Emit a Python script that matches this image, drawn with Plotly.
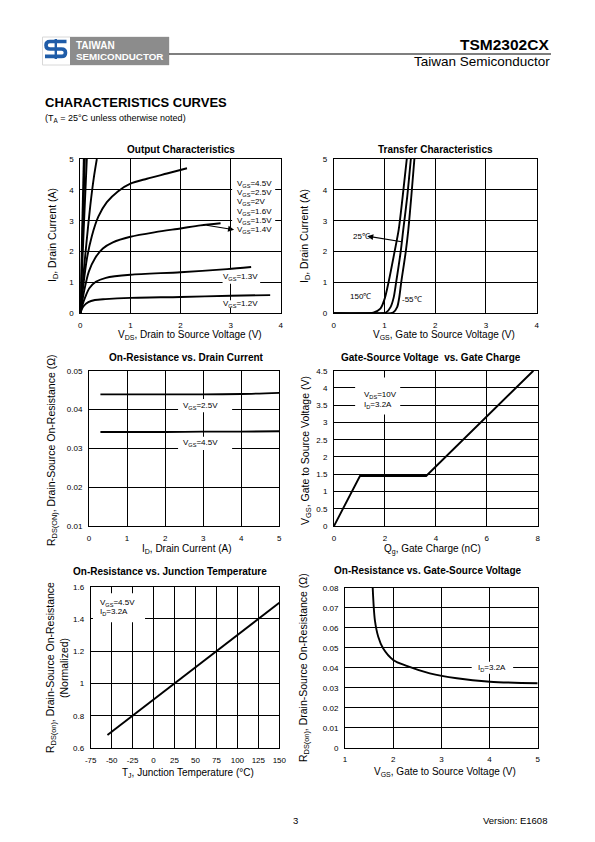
import plotly.graph_objects as go

# page is 595x842; the html body adds an 8px margin, so the figure is drawn
# 16px smaller and all page-pixel positions are shifted by that margin
PAGE_W, PAGE_H = 595, 842
OFF = 8
W, H = PAGE_W - 2 * OFF, PAGE_H - 2 * OFF
FONT = "Liberation Sans, Arial, Helvetica, sans-serif"


def X(px):
    return (px - OFF) / W


def Y(py):
    return 1 - (py - OFF) / H


# ---------------- data ----------------
# Output characteristics: VDS (V) vs ID (A) for several VGS
vds_45 = [0, 0.07]
id_45 = [0, 5.0]
vds_25 = [0, 0.09]
id_25 = [0, 5.0]
vds_20 = [0, 0.07, 0.13]
id_20 = [0, 2.8, 5.0]
vds_16 = [0, 0.06, 0.13, 0.2, 0.27, 0.33]
id_16 = [0, 1.2, 2.4, 3.5, 4.4, 5.0]
vds_15 = [0, 0.06, 0.13, 0.23, 0.36, 0.53, 0.75, 1.0, 1.33, 1.73, 2.13]
id_15 = [0, 0.9, 1.75, 2.5, 3.13, 3.6, 3.95, 4.2, 4.36, 4.53, 4.7]
vds_14 = [0, 0.08, 0.17, 0.3, 0.45, 0.65, 1.0, 1.5, 2.0, 2.4, 2.8]
id_14 = [0, 0.75, 1.35, 1.8, 2.1, 2.3, 2.48, 2.63, 2.75, 2.85, 2.92]
vds_13 = [0, 0.05, 0.1, 0.18, 0.31, 0.51, 1.0, 2.0, 2.93, 3.41]
id_13 = [0, 0.3, 0.53, 0.81, 1.02, 1.15, 1.25, 1.33, 1.43, 1.5]
vds_12 = [0, 0.06, 0.16, 0.29, 0.5, 1.0, 2.0, 3.0, 3.79]
id_12 = [0, 0.22, 0.36, 0.43, 0.46, 0.5, 0.53, 0.57, 0.59]
out_labels = ["V<sub>GS</sub>=4.5V", "V<sub>GS</sub>=2.5V", "V<sub>GS</sub>=2V",
              "V<sub>GS</sub>=1.6V", "V<sub>GS</sub>=1.5V", "V<sub>GS</sub>=1.4V"]

# Transfer characteristics: VGS (V) vs ID (A)
vgs_150 = [0, 0.5, 0.78, 0.92, 1.0, 1.08, 1.2, 1.28, 1.36, 1.44]
id_150 = [0, 0, 0.02, 0.15, 0.45, 1.0, 2.0, 2.7, 3.8, 5.0]
vgs_25c = [0, 0.8, 1.03, 1.12, 1.18, 1.23, 1.32, 1.37, 1.45, 1.52]
id_25c = [0, 0, 0.02, 0.2, 0.5, 1.0, 2.0, 2.7, 3.8, 5.0]
vgs_m55 = [0, 0.95, 1.17, 1.25, 1.29, 1.33, 1.42, 1.47, 1.53, 1.59]
id_m55 = [0, 0, 0.02, 0.2, 0.5, 1.0, 2.0, 2.7, 3.8, 5.0]

# On-resistance vs drain current
id_axis = [0.3, 1, 2, 3, 4, 5]
rds_vgs25 = [0.0439, 0.0439, 0.0439, 0.0439, 0.0440, 0.0443]
rds_vgs45 = [0.0342, 0.0342, 0.0342, 0.0343, 0.0343, 0.0344]

# Gate charge
qg = [0, 1.02, 3.62, 7.83]
vgs_q = [0, 1.45, 1.45, 4.5]

# On-resistance vs junction temperature
tj = [-55, 150]
rds_norm = [0.68, 1.5]

# On-resistance vs gate-source voltage
vgs_r = [1.575, 1.62, 1.69, 1.79, 2.0, 2.28, 2.76, 3.32, 4.01, 5.0]
rds_v = [0.080, 0.0638, 0.0555, 0.0497, 0.0439, 0.0409, 0.0372, 0.0347, 0.033, 0.0322]

# tick labels
t_out_x = ["0", "1", "2", "3", "4"]
t_out_y = ["0", "1", "2", "3", "4", "5"]
t_rid_x = ["0", "1", "2", "3", "4", "5"]
t_rid_y = ["0.01", "0.02", "0.03", "0.04", "0.05"]
t_qg_x = ["0", "2", "4", "6", "8"]
t_qg_y = ["0", "0.5", "1", "1.5", "2", "2.5", "3", "3.5", "4", "4.5"]
t_tj_x = ["-75", "-50", "-25", "0", "25", "50", "75", "100", "125", "150"]
t_tj_y = ["0.6", "0.8", "1", "1.2", "1.4", "1.6"]
t_rv_x = ["1", "2", "3", "4", "5"]
t_rv_y = ["0", "0.01", "0.02", "0.03", "0.04", "0.05", "0.06", "0.07", "0.08"]

# ---------------- figure ----------------
fig = go.Figure()

# (x0,x1,y0(top),y1(bottom)) in page px, x range, x ticks, y range, y ticks
panels = [
    ((80.3, 280.7, 159, 313.3), [0, 4], t_out_x, [0, 5], t_out_y),
    ((333.7, 536.7, 159, 313.3), [0, 4], t_out_x, [0, 5], t_out_y),
    ((89, 279.3, 370.7, 526), [0, 5], t_rid_x, [0.01, 0.05], t_rid_y),
    ((334, 537.7, 370.7, 526), [0, 8], t_qg_x, [0, 4.5], t_qg_y),
    ((90.7, 279.3, 586.7, 748), [-75, 150], t_tj_x, [0.6, 1.6], t_tj_y),
    ((345, 537.7, 587.7, 747.7), [1, 5], t_rv_x, [0, 0.08], t_rv_y),
]

axcommon = dict(showline=True, mirror=True, linecolor="black", linewidth=1,
                showgrid=True, gridcolor="black", gridwidth=1, zeroline=False,
                ticks="outside", ticklen=4, tickcolor="rgba(0,0,0,0)",
                tickfont=dict(size=8, family=FONT, color="black"),
                fixedrange=True, tickmode="array", automargin=False)

layout_axes = {}
for i, (px, xr, xt, yr, yt) in enumerate(panels, start=1):
    sfx = "" if i == 1 else str(i)
    x0, x1, yt0, yb = px
    layout_axes["xaxis" + sfx] = dict(axcommon, domain=[X(x0), X(x1)], range=xr,
                                      anchor="y" + sfx,
                                      tickvals=[float(v) for v in xt], ticktext=xt)
    layout_axes["yaxis" + sfx] = dict(axcommon, domain=[Y(yb), Y(yt0)], range=yr,
                                      anchor="x" + sfx,
                                      tickvals=[float(v) for v in yt], ticktext=yt)


def line(x, y, ax, shape="spline", width=1.9):
    fig.add_trace(go.Scatter(x=x, y=y, mode="lines", xaxis="x" + ax, yaxis="y" + ax,
                             line=dict(color="black", width=width, shape=shape,
                                       smoothing=0.8 if shape == "spline" else None),
                             hoverinfo="skip", showlegend=False))


# panel 1
for xs, ys in [(vds_45, id_45), (vds_25, id_25), (vds_20, id_20), (vds_16, id_16),
               (vds_15, id_15), (vds_14, id_14), (vds_13, id_13), (vds_12, id_12)]:
    line(xs, ys, "")
# panel 2
for xs, ys in [(vgs_150, id_150), (vgs_25c, id_25c), (vgs_m55, id_m55)]:
    line(xs, ys, "2")
# panel 3
line(id_axis, rds_vgs25, "3")
line(id_axis, rds_vgs45, "3")
# panel 4
line(qg, vgs_q, "4", shape="linear")
# panel 5
line(tj, rds_norm, "5", shape="linear")
# panel 6
line(vgs_r, rds_v, "6")

annotations = []
shapes = []


def pann(text, px, py, size=10.5, bold=False, xanchor="center", angle=0, color="black",
         yanchor="middle"):
    if bold:
        text = "<b>" + text + "</b>"
    annotations.append(dict(text=text, x=X(px), y=Y(py), xref="paper", yref="paper",
                            showarrow=False, xanchor=xanchor, yanchor=yanchor,
                            textangle=angle,
                            font=dict(size=size, family=FONT, color=color)))


def dann(text, x, y, ax, size=8, xanchor="left"):
    annotations.append(dict(text=text, x=x, y=y, xref="x" + ax, yref="y" + ax,
                            showarrow=False, xanchor=xanchor, yanchor="middle",
                            font=dict(size=size, family=FONT, color="black")))


def box(ax, x0, x1, y0, y1):
    shapes.append(dict(type="rect", xref="x" + ax, yref="y" + ax, x0=x0, x1=x1,
                       y0=y0, y1=y1, fillcolor="white", line=dict(width=0),
                       layer="between"))


def arrow(ax, xh, yh, xt, yt):
    annotations.append(dict(text="", x=xh, y=yh, ax=xt, ay=yt, xref="x" + ax,
                            yref="y" + ax, axref="x" + ax, ayref="y" + ax,
                            showarrow=True, arrowhead=2, arrowsize=1.1,
                            arrowwidth=1.1, arrowcolor="black"))


# ---- panel labels ----
box("", 3.03, 3.89, 2.57, 4.42)
for lab, yy in zip(out_labels, [4.19, 3.89, 3.60, 3.29, 3.0, 2.70]):
    dann(lab, 3.09, yy, "")
arrow("", 3.07, 2.71, 2.49, 2.86)
box("", 2.84, 3.59, 0.96, 1.42)
dann("V<sub>GS</sub>=1.3V", 3.2, 1.19, "", xanchor="center")
box("", 2.84, 3.59, 0.18, 0.42)
dann("V<sub>GS</sub>=1.2V", 3.2, 0.30, "", xanchor="center")

dann("25℃", 0.55, 2.48, "2", xanchor="center")
arrow("2", 0.66, 2.5, 1.37, 2.31)
dann("150℃", 0.52, 0.54, "2", xanchor="center")
dann("-55℃", 1.55, 0.45, "2", xanchor="center")

box("3", 2.34, 3.76, 0.0393, 0.0427)
dann("V<sub>GS</sub>=2.5V", 2.92, 0.0410, "3", xanchor="center")
box("3", 2.34, 3.76, 0.0296, 0.0330)
dann("V<sub>GS</sub>=4.5V", 2.92, 0.0313, "3", xanchor="center")

box("4", 0.83, 2.6, 3.23, 4.3)
dann("V<sub>DS</sub>=10V", 1.1, 3.81, "4")
dann("I<sub>D</sub>=3.2A", 1.1, 3.50, "4")

box("5", -72.3, -10.2, 1.38, 1.56)
dann("V<sub>GS</sub>=4.5V", -65.9, 1.50, "5")
dann("I<sub>D</sub>=3.2A", -65.9, 1.445, "5")

box("6", 3.63, 4.49, 0.037, 0.043)
dann("I<sub>D</sub>=3.2A", 4.06, 0.040, "6", xanchor="center")

# ---- panel titles ----
pann("Output Characteristics", 181, 149, size=10, bold=True)
pann("Transfer Characteristics", 435, 149, size=10, bold=True)
pann("On-Resistance vs. Drain Current", 186, 357, size=10, bold=True)
pann("Gate-Source Voltage  vs. Gate Charge", 431, 357, size=10, bold=True)
pann("On-Resistance vs. Junction Temperature", 170, 571, size=10, bold=True)
pann("On-Resistance vs. Gate-Source Voltage", 428, 570, size=10, bold=True)

# ---- axis titles ----
pann("V<sub>DS</sub>, Drain to Source Voltage (V)", 190, 335, size=10)
pann("I<sub>D</sub>, Drain Current (A)", 53, 235, angle=-90)
pann("V<sub>GS</sub>, Gate to Source Voltage (V)", 444, 335, size=10)
pann("I<sub>D</sub>, Drain Current (A)", 305, 236, angle=-90)
pann("I<sub>D</sub>, Drain Current (A)", 187, 549, size=10)
pann("R<sub>DS(ON)</sub>, Drain-Source On-Resistance (Ω)", 52, 450, angle=-90)
pann("Q<sub>g</sub>, Gate Charge (nC)", 432, 549, size=10)
pann("V<sub>GS</sub>, Gate to Source Voltage (V)", 306, 451, angle=-90)
pann("T<sub>J</sub>, Junction Temperature (°C)", 188, 773, size=10)
pann("R<sub>DS(on)</sub>, Drain-Source On-Resistance", 51, 668, angle=-90)
pann("(Normalized)", 64, 668, angle=-90)
pann("V<sub>GS</sub>, Gate to Source Voltage (V)", 445, 772, size=10)
pann("R<sub>DS(on)</sub>, Drain-Source On-Resistance (Ω)", 304, 668, angle=-90)

# ---- header / footer ----
pann("TSM2302CX", 551, 44, size=15.5, bold=True, xanchor="right")
pann("Taiwan Semiconductor", 552, 61, size=13.5, xanchor="right")
pann("CHARACTERISTICS CURVES", 43, 103, size=13, bold=True, xanchor="left")
pann("(T<sub>A</sub> = 25°C unless otherwise noted)", 43, 118, size=9, xanchor="left")
pann("3", 295.5, 820, size=9.5)
pann("Version: E1608", 549, 820, size=9.5, xanchor="right")

# logo
shapes.append(dict(type="rect", xref="paper", yref="paper", x0=X(42.5), x1=X(169),
                   y0=Y(65), y1=Y(37), fillcolor="white",
                   line=dict(color="#d8d8d8", width=1), layer="above"))
shapes.append(dict(type="rect", xref="paper", yref="paper", x0=X(70), x1=X(169),
                   y0=Y(65), y1=Y(37), fillcolor="#8c8c8c", line=dict(width=0),
                   layer="above"))


def ppath(cmds):
    out = []
    for c in cmds:
        op, nums = c[0], c[1:]
        coords = []
        for k in range(0, len(nums), 2):
            coords.append("%.5f,%.5f" % (X(nums[k]), Y(nums[k + 1])))
        out.append(op + " ".join(coords))
    return " ".join(out)


blue = "#1f5ca8"
shapes.append(dict(type="path", xref="paper", yref="paper", layer="above",
                   path=ppath([("M", 66.5, 41.5), ("L", 50, 41.5),
                               ("Q", 46, 41.5, 46, 45.2), ("Q", 46, 49, 50, 49),
                               ("L", 61.5, 49), ("Q", 65.5, 49, 65.5, 52.7),
                               ("Q", 65.5, 56.4, 61.5, 56.4), ("L", 45, 56.4)]),
                   line=dict(color=blue, width=3.6)))
shapes.append(dict(type="line", xref="paper", yref="paper", layer="above",
                   x0=X(55.8), x1=X(55.8), y0=Y(39), y1=Y(59),
                   line=dict(color=blue, width=2.4)))
pann("TAIWAN", 73.5, 45.5, size=10, bold=True, xanchor="left", color="white")
pann("SEMICONDUCTOR", 73.5, 57, size=9.8, bold=True, xanchor="left", color="white")
shapes.append(dict(type="line", xref="paper", yref="paper", x0=X(169), x1=X(551),
                   y0=Y(54), y1=Y(54), line=dict(color="black", width=1.2)))

fig.update_layout(
    width=W, height=H, autosize=False,
    margin=dict(l=0, r=0, t=0, b=0, pad=0, autoexpand=False),
    paper_bgcolor="white", plot_bgcolor="white",
    showlegend=False,
    annotations=annotations, shapes=shapes,
    font=dict(family=FONT, color="black"),
    **layout_axes,
)

fig.write_html("out.html", config={"displayModeBar": False})
